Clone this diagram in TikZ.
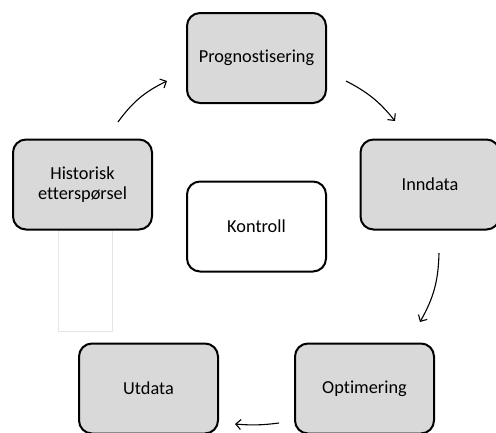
\documentclass[tikz,border=0pt]{standalone}
\usepackage{fontspec}
\setmainfont{Carlito}[Ligatures=NoCommon]
\usetikzlibrary{arrows.meta}
\definecolor{boxgray}{HTML}{D9D9D9}
\definecolor{faint}{HTML}{E6E6E6}
\tikzset{
  procbox/.style={draw=black, line width=2pt, rounded corners=13pt, fill=boxgray,
    minimum width=139pt, minimum height=90pt, align=center, inner sep=0pt,
    font=\fontsize{18.3}{20}\selectfont},
  ctrlbox/.style={procbox, fill=white},
  blankbox/.style={draw=faint, line width=0.8pt, fill=white, minimum width=54pt,
    minimum height=101pt, inner sep=0pt},
  flow/.style={draw=black, line width=1.1pt, -{Straight Barb[length=5pt,width=10pt,line width=1.1pt]}}
}
\begin{document}
\begin{tikzpicture}[x=1pt,y=-1pt]
\useasboundingbox (0,0) rectangle (496,432);
\clip (0,0) rectangle (496,432);
\fill[white] (0,0) rectangle (496,432);
\node[blankbox] (blank) at (85.5,281) {};
\node[procbox] (prog) at (256.5,58) {Prognostisering};
\node[procbox] (hist) at (82.5,184.5) {Historisk\\etterspørsel};
\node[procbox] (inn) at (430,184.5) {Inndata};
\node[ctrlbox] (ktr) at (256.5,226.5) {Kontroll};
\node[procbox] (utd) at (148.5,388.5) {Utdata};
\node[procbox] (opt) at (364.5,388.5) {Optimering};
\coordinate (a1s) at (118,122);
\coordinate (a1e) at (167,81);
\coordinate (a2s) at (346,81);
\coordinate (a2e) at (395,121);
\coordinate (a3s) at (439,253);
\coordinate (a3e) at (420,322);
\coordinate (a4s) at (279,423);
\coordinate (a4e) at (235,424);
\draw[flow] (a1s) to[bend left=14] (a1e);
\draw[flow] (a2s) to[bend left=12] (a2e);
\draw[flow] (a3s) to[bend left=14] (a3e);
\draw[flow] (a4s) to[bend left=6] (a4e);
\end{tikzpicture}
\end{document}
